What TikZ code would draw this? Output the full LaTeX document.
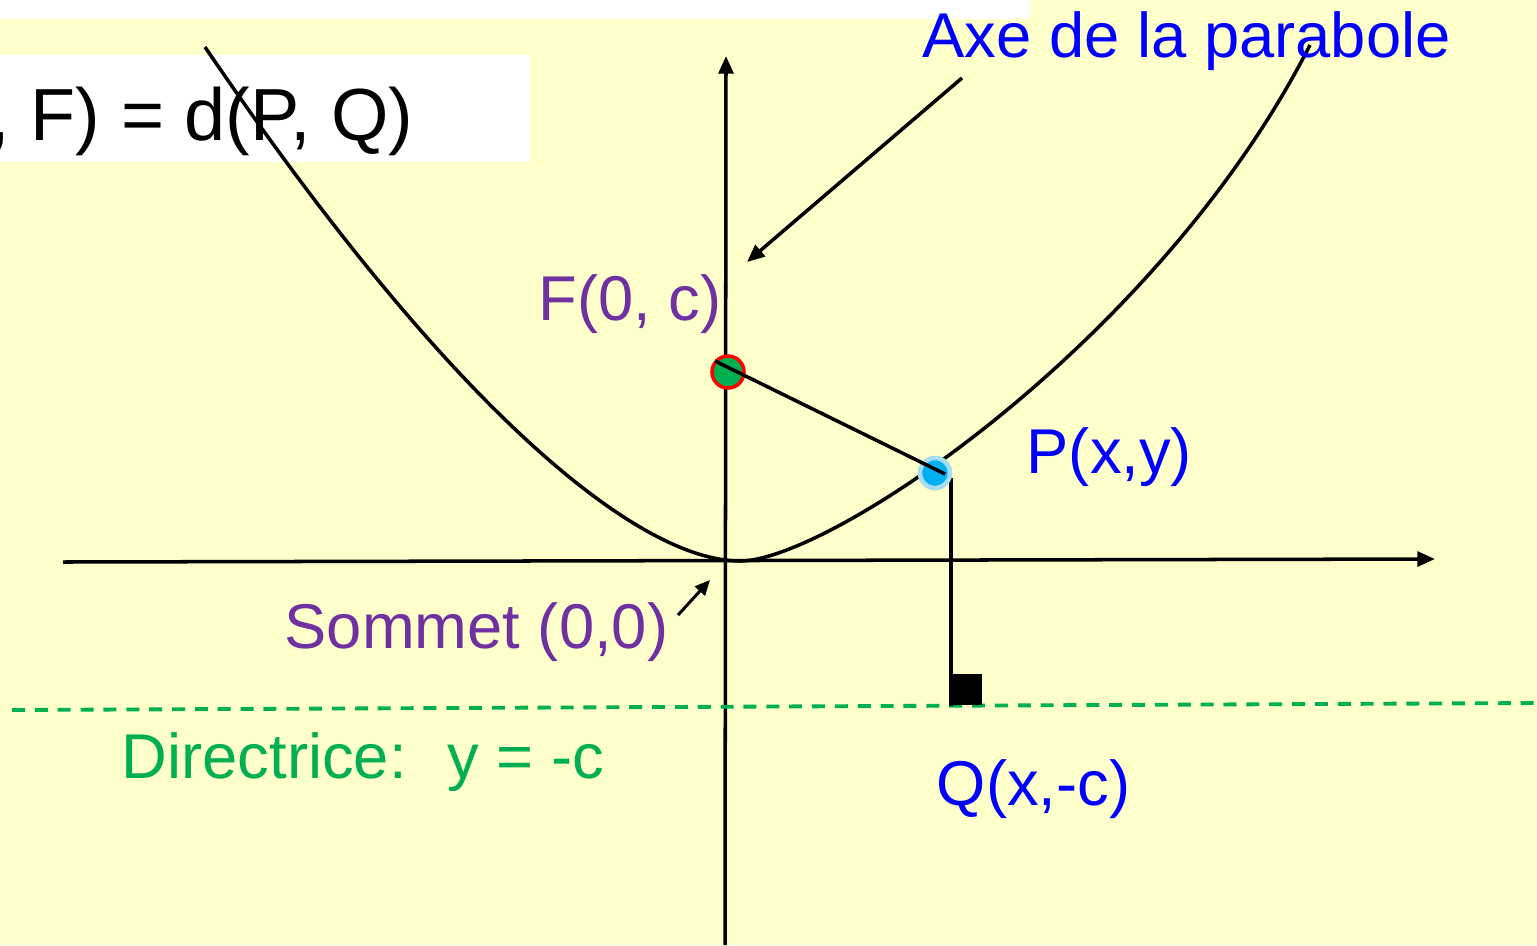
\documentclass[tikz,border=0pt]{standalone}
\usepackage{fontspec}
\setmainfont{Liberation Sans}
\usetikzlibrary{arrows.meta}
\definecolor{Paper}{HTML}{FFFFCC}
\definecolor{Blue}{HTML}{0000FF}
\definecolor{Purple}{HTML}{7030A0}
\definecolor{Green}{HTML}{00B050}
\definecolor{Red}{HTML}{FF0000}
\definecolor{Cyan}{HTML}{00B0F0}
\definecolor{Halo}{HTML}{A6DCF2}

\begin{document}
\begin{tikzpicture}[x=.01cm,y=-.01cm,line width=1pt,
  lbl/.style={anchor=base west,inner sep=0pt,font=\fontsize{18}{20}\selectfont},
  tip/.style={-{Triangle[length=5pt,width=4.2pt]}}]
\useasboundingbox(0,0)rectangle(1537,945);
\fill[Paper](0,0)rectangle(1537,945);
\fill[white](0,0)rectangle(1030,19);
\fill[white](0,55)rectangle(530,162);
\node[lbl,anchor=base east,font=\fontsize{21}{24}\selectfont](eq)at(415,140){, F) = d(P, Q)};
% axes
\coordinate(xl)at(63,562);\coordinate(xr)at(1435,559);
\coordinate(yb)at(725,945);\coordinate(yt)at(726,56);
\draw[tip](xl)--(xr);
\draw[tip](yb)--(yt);
% directrice
\coordinate(dl)at(12,710);\coordinate(dr)at(1537,703);
\draw[Green,line width=1.1pt,dash pattern=on 3.7pt off 2.8pt](dl)--(dr);
% parabole
\coordinate(La)at(205,47);\coordinate(V)at(740,561);\coordinate(Ra)at(1310,45);
\draw(La)..controls(455,415)and(640,561)..(V)..controls(830,561)and(1160,340)..(Ra);
% P, Q, F
\coordinate(F)at(728,372);\coordinate(P)at(935,473);
\coordinate(Pf)at(951,478);\coordinate(Q)at(951,706);
\draw(Pf)--(Q);
\fill(953,674)rectangle(982,705);
\draw[Red,fill=Green](F)circle[radius=16];
\draw[Halo,fill=Cyan,line width=1.3pt](P)circle[radius=15];
\coordinate(Fa)at(715,361);\coordinate(Pa)at(945,474);
\draw(Fa)--(Pa);
% fleches
\coordinate(a1)at(962,78);\coordinate(a2)at(747,262);
\draw[tip](a1)--(a2);
\coordinate(s1)at(678,615);\coordinate(s2)at(710,580);
\draw[-{Triangle[length=4.3pt,width=3.8pt]},line width=.85pt](s1)--(s2);
% textes
\node[lbl,Blue](lA)at(921,57){Axe de la parabole};
\node[lbl,Purple](lF)at(537,320){F(0, c)};
\node[lbl,Blue](lP)at(1025,473){P(x,y)};
\node[lbl,Purple](lS)at(283,648){Sommet (0,0)};
\node[lbl,Green](lD)at(120,778){Directrice:~ y = -c};
\node[lbl,Blue](lQ)at(935,805){Q(x,-c)};
\end{tikzpicture}
\end{document}
